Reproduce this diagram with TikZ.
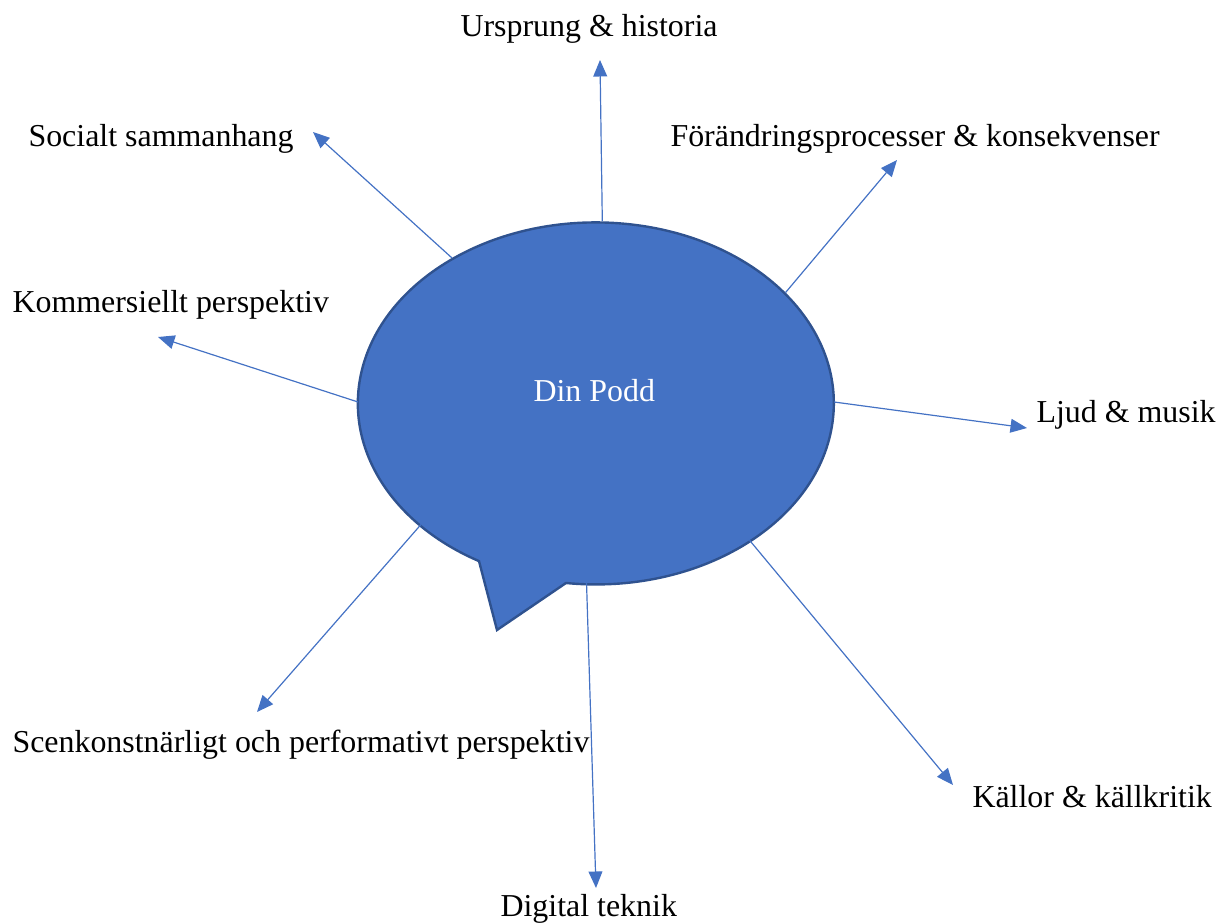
\documentclass[tikz,border=0pt]{standalone}
\usepackage{fontspec}
\setmainfont{Liberation Serif}
\usepackage{xcolor}
\usetikzlibrary{shapes.geometric, positioning, arrows.meta}
\definecolor{podblue}{HTML}{4472C4}
\definecolor{podedge}{HTML}{2F528F}

\begin{document}
\begin{tikzpicture}[x=0.376pt, y=-0.376pt,
  conn/.style={podblue, line width=0.45pt, -{Triangle[length=6.2pt,width=5.2pt]}},
  lbl/.style={anchor=base west, inner sep=0pt, font=\fontsize{12}{14}\selectfont}]
\useasboundingbox (0,0) rectangle (1227,924);
%
% bubble
\fill[podblue, draw=podedge, line width=0.9pt] (566,583)
  arc[start angle=97.2, end angle=-240.6, x radius=238, y radius=181]
  -- (497,630) -- cycle;
\node[ellipse, minimum width=179pt, minimum height=136.1pt, inner sep=0pt, outer sep=0pt] (podd) at (596,402) {};
\node[lbl, white] (title) at (533,402) {Din Podd};
%
% labels
\node[lbl] (ursprung) at (460,37) {Ursprung \& historia};
\node[lbl] (socialt) at (28,147) {Socialt sammanhang};
\node[lbl] (komm) at (12,313) {Kommersiellt perspektiv};
\node[lbl] (forand) at (670,147) {Förändringsprocesser \& konsekvenser};
\node[lbl] (ljud) at (1036,423) {Ljud \& musik};
\node[lbl] (kallor) at (972,808) {Källor \& källkritik};
\node[lbl] (scen) at (12,753) {Scenkonstnärligt och performativt perspektiv};
\node[lbl] (digital) at (500,917) {Digital teknik};
%
% arrow tips
\coordinate (tipUrsprung) at (600,60);
\coordinate (tipSocialt) at (313,132);
\coordinate (tipKomm) at (158,337);
\coordinate (tipForand) at (897,160);
\coordinate (tipLjud) at (1027,428);
\coordinate (tipKallor) at (953,785);
\coordinate (tipDigital) at (596,888);
\coordinate (tipScen) at (257,712);
%
\draw[conn] (podd.88.7) -- (tipUrsprung);
\draw[conn] (podd.135.2) -- (tipSocialt);
\draw[conn] (podd.180.2) -- (tipKomm);
\draw[conn] (podd.30.6) -- (tipForand);
\draw[conn] (podd.-0.2) -- (tipLjud);
\draw[conn] (podd.-42) -- (tipKallor);
\draw[conn] (podd.-93) -- (tipDigital);
\draw[conn] (podd.-145.4) -- (tipScen);
\end{tikzpicture}
\end{document}
